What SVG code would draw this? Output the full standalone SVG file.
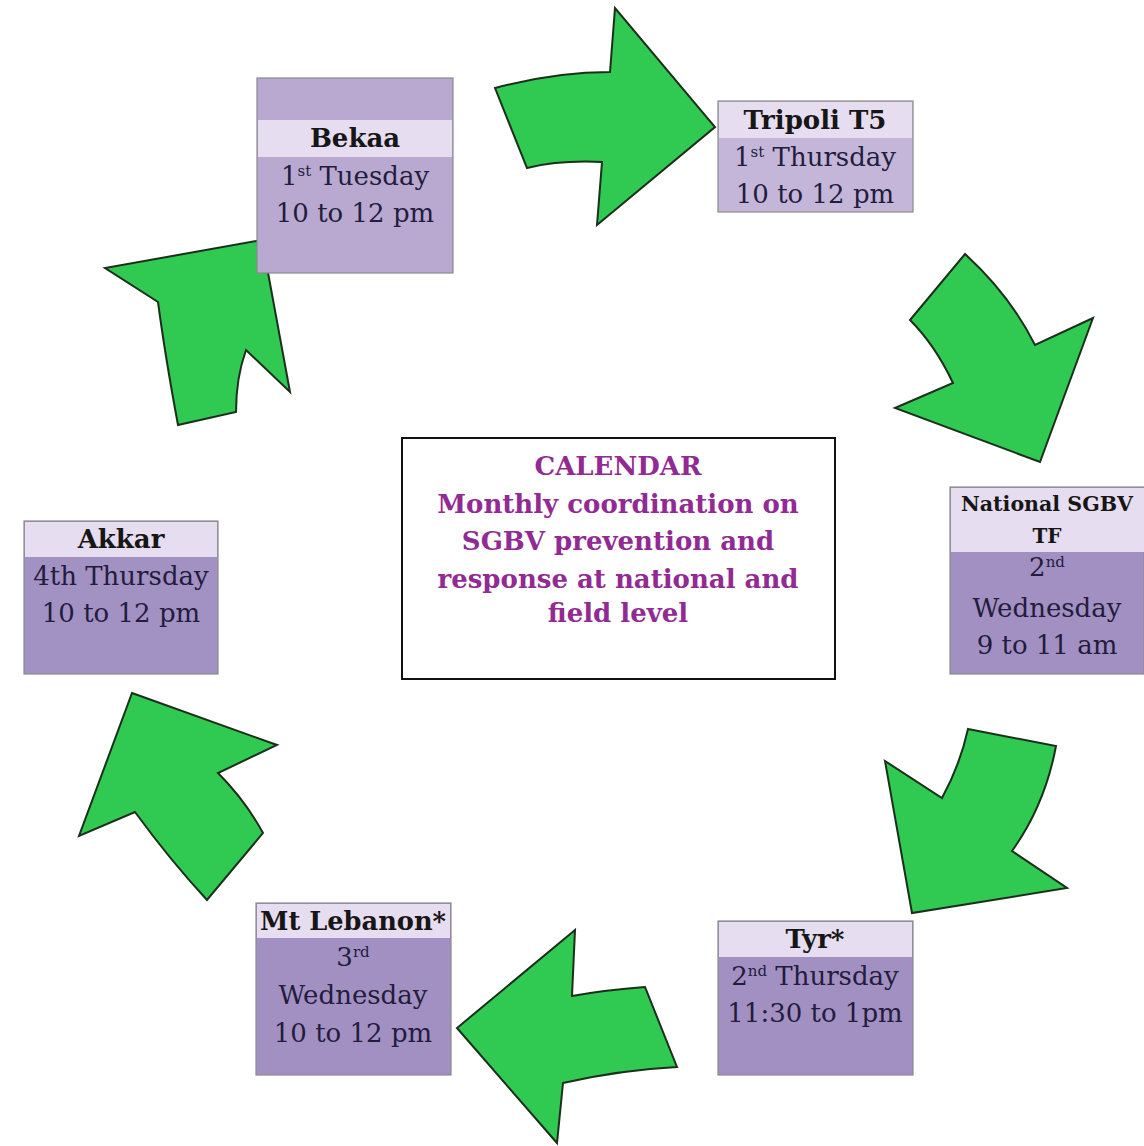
<svg xmlns="http://www.w3.org/2000/svg" width="1144" height="1146" viewBox="0 0 1144 1146">
<style>
.arrow{fill:#30c952;stroke:#1c2e1c;stroke-width:2;stroke-linejoin:miter}
.box{stroke:#8a8a8a;stroke-width:1.2}
.hdr{fill:#e6ddf0}
.t{font-family:"DejaVu Serif","Liberation Serif",serif;font-size:26px;fill:#231c3c;text-anchor:middle}
.h{font-family:"DejaVu Serif","Liberation Serif",serif;font-size:26px;font-weight:bold;fill:#161616;text-anchor:middle}
.c{font-family:"DejaVu Serif","Liberation Serif",serif;font-size:26px;font-weight:bold;fill:#922a93;text-anchor:middle}
.sup{font-size:15px}
</style>
<rect width="1144" height="1146" fill="#ffffff"/>
<g id="connectors">
<path class="arrow" d="M495,88 Q555,72 610,72 L615,8 L715,127 L597,225 L602,162 Q560,160 527,168 Z"/>
<path class="arrow" d="M965,254 Q1010,295 1035,345 L1093,318 L1040,462 L895,408 L953,383 Q935,345 910,320 Z"/>
<path class="arrow" d="M968,729 L1056,746 Q1045,805 1012,851 L1067,888 L912,913 L885,761 L942,798 Q960,765 968,729 Z"/>
<path class="arrow" d="M575,930 L457,1028 L557,1143 L563,1083 Q620,1070 677,1067 L645,987 Q605,990 572,996 Z"/>
<path class="arrow" d="M132,693 L277,745 L218,773 Q245,800 263,833 L207,900 Q170,860 135,812 L79,836 Z"/>
<path class="arrow" d="M262,240 L290,392 L246,350 Q236,378 236,412 L178,425 Q165,355 158,302 L105,268 Z"/>
</g>
<g id="bekaa">
<rect class="box" x="257" y="78" width="196" height="195" fill="#b9a9d1"/>
<rect class="hdr" x="258" y="120" width="194" height="37"/>
<text class="h" x="355" y="147">Bekaa</text>
<text class="t" x="355" y="185">1<tspan class="sup" dy="-9">st</tspan><tspan dy="9"> Tuesday</tspan></text>
<text class="t" x="355" y="222">10 to 12 pm</text>
</g>
<g id="tripoli">
<rect class="box" x="718" y="101" width="195" height="111" fill="#c4b6d9"/>
<rect class="hdr" x="719" y="102" width="193" height="36"/>
<text class="h" x="815" y="129">Tripoli T5</text>
<text class="t" x="815" y="166">1<tspan class="sup" dy="-9">st</tspan><tspan dy="9"> Thursday</tspan></text>
<text class="t" x="815" y="203">10 to 12 pm</text>
</g>
<g id="national">
<rect class="box" x="950" y="487" width="194" height="187" fill="#a290c3"/>
<rect class="hdr" x="951" y="488" width="193" height="64"/>
<text class="h" x="1047" y="511" style="font-size:20px" textLength="172" lengthAdjust="spacingAndGlyphs">National SGBV</text>
<text class="h" x="1047" y="543" style="font-size:20px">TF</text>
<text class="t" x="1047" y="576">2<tspan class="sup" dy="-9">nd</tspan></text>
<text class="t" x="1047" y="617">Wednesday</text>
<text class="t" x="1047" y="654">9 to 11 am</text>
</g>
<g id="akkar">
<rect class="box" x="24" y="521" width="194" height="153" fill="#a291c3"/>
<rect class="hdr" x="25" y="522" width="192" height="35"/>
<text class="h" x="121" y="548">Akkar</text>
<text class="t" x="121" y="585">4th Thursday</text>
<text class="t" x="121" y="622">10 to 12 pm</text>
</g>
<g id="mtlebanon">
<rect class="box" x="256" y="903" width="195" height="172" fill="#a290c3"/>
<rect class="hdr" x="257" y="904" width="193" height="34"/>
<text class="h" x="353" y="930" textLength="186" lengthAdjust="spacingAndGlyphs">Mt Lebanon*</text>
<text class="t" x="353" y="966">3<tspan class="sup" dy="-9">rd</tspan></text>
<text class="t" x="353" y="1004">Wednesday</text>
<text class="t" x="353" y="1042">10 to 12 pm</text>
</g>
<g id="tyr">
<rect class="box" x="718" y="921" width="195" height="154" fill="#a290c3"/>
<rect class="hdr" x="719" y="922" width="193" height="35"/>
<text class="h" x="815" y="948">Tyr*</text>
<text class="t" x="815" y="985">2<tspan class="sup" dy="-9">nd</tspan><tspan dy="9"> Thursday</tspan></text>
<text class="t" x="815" y="1022">11:30 to 1pm</text>
</g>
<g id="calendar">
<rect x="402" y="438" width="433" height="241" fill="#ffffff" stroke="#111111" stroke-width="2"/>
<text class="c" x="618" y="475">CALENDAR</text>
<text class="c" x="618" y="513">Monthly coordination on</text>
<text class="c" x="618" y="550">SGBV prevention and</text>
<text class="c" x="618" y="588">response at national and</text>
<text class="c" x="618" y="622">field level</text>
</g>
</svg>
